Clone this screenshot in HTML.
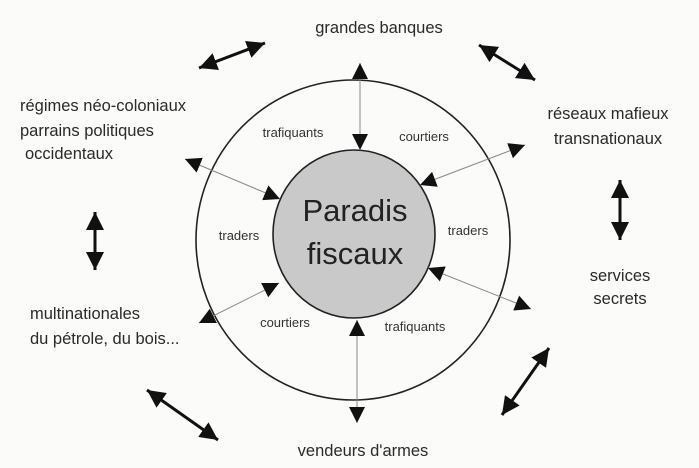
<!DOCTYPE html>
<html><head><meta charset="utf-8"><style>
html,body{margin:0;padding:0;background:#fbfbf9;}
svg{display:block;}
text{font-family:"Liberation Sans",sans-serif;fill:#2a2a2a;}
.o{font-size:16.5px;}
.i{font-size:13px;fill:#333;}
</style></head><body>
<svg width="699" height="468" viewBox="0 0 699 468" xmlns="http://www.w3.org/2000/svg">
<defs>
<marker id="t" viewBox="0 0 10 10" refX="10" refY="5" markerWidth="16" markerHeight="16" markerUnits="userSpaceOnUse" orient="auto-start-reverse">
<path d="M0,0 L10,5 L0,10 z" fill="#111"/></marker>
<marker id="b" viewBox="0 0 10 10" refX="10" refY="5" markerWidth="18" markerHeight="18" markerUnits="userSpaceOnUse" orient="auto-start-reverse">
<path d="M0,0 L10,5 L0,10 z" fill="#111"/></marker>
</defs>
<ellipse cx="353" cy="240" rx="157" ry="160" fill="none" stroke="#222" stroke-width="1.6"/>
<ellipse cx="354" cy="234" rx="81" ry="84" fill="#c9c9c9" stroke="#222" stroke-width="1.6"/>
<g stroke="#888" stroke-width="1" fill="none">
<line x1="360" y1="63" x2="360" y2="150" marker-start="url(#t)" marker-end="url(#t)"/>
<line x1="357" y1="320" x2="357" y2="423" marker-start="url(#t)" marker-end="url(#t)"/>
<line x1="185" y1="159" x2="280" y2="199" marker-start="url(#t)" marker-end="url(#t)"/>
<line x1="525" y1="145" x2="420" y2="185" marker-start="url(#t)" marker-end="url(#t)"/>
<line x1="428" y1="268" x2="531" y2="309" marker-start="url(#t)" marker-end="url(#t)"/>
<line x1="279" y1="283" x2="199" y2="323" marker-start="url(#t)" marker-end="url(#t)"/>
</g>
<g stroke="#111" stroke-width="3" fill="none">
<line x1="199" y1="68" x2="265" y2="43" marker-start="url(#b)" marker-end="url(#b)"/>
<line x1="479" y1="45" x2="535" y2="80" marker-start="url(#b)" marker-end="url(#b)"/>
<line x1="95" y1="212" x2="95" y2="270" marker-start="url(#b)" marker-end="url(#b)"/>
<line x1="620" y1="180" x2="620" y2="240" marker-start="url(#b)" marker-end="url(#b)"/>
<line x1="147" y1="390" x2="218" y2="440" marker-start="url(#b)" marker-end="url(#b)"/>
<line x1="502" y1="415" x2="549" y2="348" marker-start="url(#b)" marker-end="url(#b)"/>
</g>
<text x="355" y="221" font-size="31" text-anchor="middle" style="fill:#222">Paradis</text>
<text x="355" y="264" font-size="31" text-anchor="middle" style="fill:#222">fiscaux</text>
<text class="i" x="293" y="137" text-anchor="middle">trafiquants</text>
<text class="i" x="424" y="141" text-anchor="middle">courtiers</text>
<text class="i" x="239" y="240" text-anchor="middle">traders</text>
<text class="i" x="468" y="235" text-anchor="middle">traders</text>
<text class="i" x="285" y="327" text-anchor="middle">courtiers</text>
<text class="i" x="415" y="331" text-anchor="middle">trafiquants</text>
<text class="o" x="379" y="33" text-anchor="middle">grandes banques</text>
<text class="o" x="20" y="111">régimes néo-coloniaux</text>
<text class="o" x="20" y="136">parrains politiques</text>
<text class="o" x="25" y="159">occidentaux</text>
<text class="o" x="608" y="119" text-anchor="middle">réseaux mafieux</text>
<text class="o" x="608" y="144" text-anchor="middle">transnationaux</text>
<text class="o" x="620" y="281" text-anchor="middle">services</text>
<text class="o" x="620" y="304" text-anchor="middle">secrets</text>
<text class="o" x="30" y="319">multinationales</text>
<text class="o" x="30" y="344">du pétrole, du bois...</text>
<text class="o" x="363" y="456" text-anchor="middle">vendeurs d'armes</text>
</svg>
</body></html>
